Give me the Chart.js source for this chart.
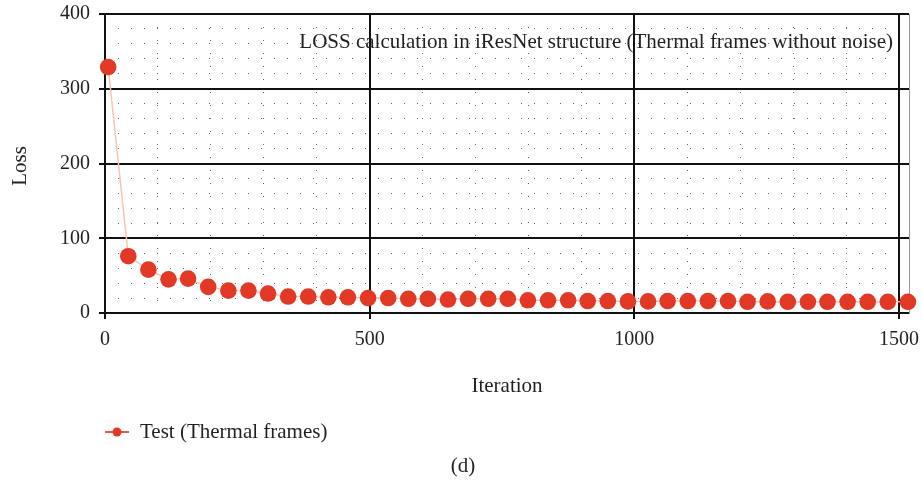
<!DOCTYPE html>
<html>
<head>
<meta charset="utf-8">
<script src="https://cdn.jsdelivr.net/npm/chart.js@4.4.1/dist/chart.umd.min.js"></script>
<style>
  html, body { margin: 0; padding: 0; background: #fff; }
  #wrap { width: 922px; height: 481px; }
</style>
</head>
<body>
<div id="wrap"><canvas id="myChart" width="922" height="481"></canvas></div>
<script>
// 데이터
const iterations = [6, 44, 82, 120, 157, 195, 233, 271, 308, 346, 384, 422, 459, 497, 535, 573, 610, 648,
  686, 724, 761, 799, 837, 875, 912, 950, 988, 1026, 1063, 1101, 1139, 1177, 1214, 1252, 1290, 1328,
  1365, 1403, 1441, 1479, 1517];
const lossValues = [329, 76, 58, 45, 46, 35, 30, 30, 26, 22, 22, 21, 21, 20, 20, 19, 19, 18,
  19, 19, 19, 17, 17, 17, 16, 16, 15.5, 15.5, 16, 16, 16, 16, 15, 15.5, 15, 15, 15, 15, 15, 15, 15];
const xTicks = [0, 500, 1000, 1500];
const yTicks = [0, 100, 200, 300, 400];
const seriesLabel = 'Test (Thermal frames)';
const plotTitle = 'LOSS calculation in iResNet structure (Thermal frames without noise)';
const xTitle = 'Iteration';
const yTitle = 'Loss';
const panelLabel = '(d)';

const textColor = '#231f20';
const serif = "'Liberation Serif', serif";

Chart.defaults.font.family = serif;
Chart.defaults.color = textColor;

// 텍스트(제목, 축 제목, 범례) 그리기
const textPlugin = {
  id: 'textPlugin',
  afterDraw(chart) {
    const ctx = chart.ctx;
    const ds = chart.data.datasets[0];
    ctx.save();
    ctx.fillStyle = textColor;

    ctx.font = '21px ' + serif;
    ctx.textAlign = 'right';
    ctx.textBaseline = 'alphabetic';
    ctx.fillText(plotTitle, 893, 48);

    ctx.textAlign = 'center';
    ctx.textBaseline = 'middle';
    ctx.fillText(xTitle, 507, 386);
    ctx.fillText(panelLabel, 463, 466);

    ctx.save();
    ctx.translate(20, 166);
    ctx.rotate(-Math.PI / 2);
    ctx.fillText(yTitle, 0, 0);
    ctx.restore();

    // 범례
    ctx.strokeStyle = '#ec5a45';
    ctx.lineWidth = 2;
    ctx.beginPath();
    ctx.moveTo(105, 432);
    ctx.lineTo(129, 432);
    ctx.stroke();
    ctx.fillStyle = ds.pointBackgroundColor;
    ctx.beginPath();
    ctx.arc(117, 432, 4.5, 0, Math.PI * 2);
    ctx.fill();
    ctx.fillStyle = textColor;
    ctx.textAlign = 'left';
    ctx.fillText(ds.label, 140, 432);
    ctx.restore();
  }
};

const ctx = document.getElementById('myChart').getContext('2d');
new Chart(ctx, {
  type: 'line',
  data: {
    datasets: [{
      label: seriesLabel,
      data: iterations.map((x, i) => ({ x: x, y: lossValues[i] })),
      borderColor: '#f8c5b4',
      borderWidth: 1.5,
      pointBackgroundColor: '#e23826',
      pointBorderColor: '#e23826',
      pointBorderWidth: 0,
      pointRadius: 8.3,
      tension: 0,
      clip: false
    }]
  },
  options: {
    responsive: false,
    animation: false,
    layout: { padding: { top: 14, right: 13, left: 0, bottom: 0 } },
    plugins: {
      legend: { display: false },
      tooltip: { enabled: false },
      title: { display: false }
    },
    scales: {
      x: {
        type: 'linear',
        position: 'bottom',
        min: 0,
        max: 1519,
        afterBuildTicks: (s) => { s.ticks = xTicks.map(v => ({ value: v })); },
        ticks: { font: { size: 20 }, padding: 9, maxRotation: 0, color: textColor, callback: (v) => String(v) },
        grid: { color: '#111', lineWidth: 2, tickLength: 6, tickColor: '#111', tickWidth: 2, z: -1 },
        border: { display: true, color: '#111', width: 2 },
        afterFit: (s) => { s.height = 168; s.paddingLeft = 0; s.paddingRight = 0; }
      },
      y: {
        type: 'linear',
        position: 'left',
        min: 0,
        max: 400,
        afterBuildTicks: (s) => { s.ticks = yTicks.map(v => ({ value: v })); },
        ticks: { font: { size: 20 }, padding: 9, color: textColor, callback: (v) => String(v) },
        grid: { color: '#111', lineWidth: 2, tickLength: 6, tickColor: '#111', tickWidth: 2, z: -1 },
        border: { display: true, color: '#111', width: 2 },
        afterFit: (s) => { s.width = 105; s.paddingTop = 0; s.paddingBottom = 0; }
      },
      // 보조 격자 (점선)
      xMinor: {
        type: 'linear',
        position: 'bottom',
        min: 0,
        max: 1519,
        ticks: { display: false, stepSize: 100, includeBounds: false },
        grid: { color: '#666', lineWidth: 1, drawTicks: false, z: -2 },
        border: { display: false, dash: [1, 12] },
        afterFit: (s) => { s.height = 0; s.paddingLeft = 0; s.paddingRight = 0; }
      },
      yMinor: {
        type: 'linear',
        position: 'right',
        min: 0,
        max: 400,
        ticks: { display: false, stepSize: 20 },
        grid: { color: '#666', lineWidth: 1, drawTicks: false, z: -2 },
        border: { display: true, color: '#999', width: 1, dash: [1, 12] },
        afterFit: (s) => { s.width = 0; s.paddingTop = 0; s.paddingBottom = 0; }
      }
    }
  },
  plugins: [textPlugin]
});
</script>
</body>
</html>
